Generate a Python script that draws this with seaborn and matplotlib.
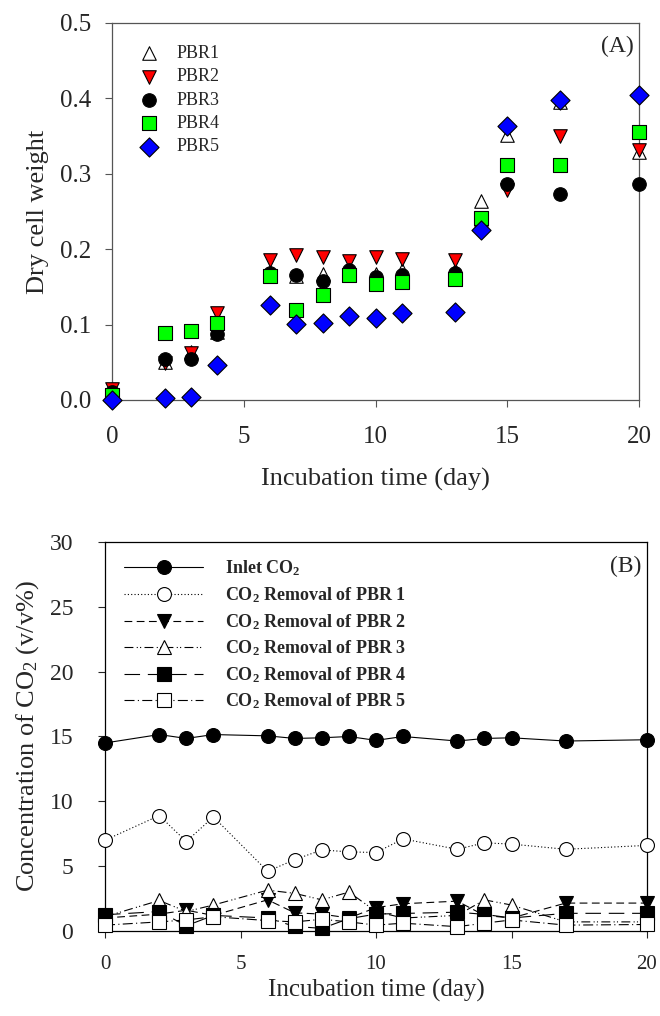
import numpy as np
import pandas as pd
import matplotlib
matplotlib.use('Agg')
import matplotlib.pyplot as plt
import seaborn as sns

# Panel A - dry cell weight
days_a = [0, 2, 3, 4, 6, 7, 8, 9, 10, 11, 13, 14, 15, 17, 20]
pbr1_dcw = [0.010, 0.050, 0.064, 0.090, 0.170, 0.165, 0.167, 0.170, 0.167, 0.172, 0.172, 0.264, 0.351, 0.395, 0.329]
pbr2_dcw = [0.014, 0.049, 0.062, 0.115, 0.186, 0.192, 0.189, 0.184, 0.189, 0.187, 0.186, 0.230, 0.279, 0.350, 0.331]
pbr3_dcw = [0.010, 0.055, 0.055, 0.088, 0.169, 0.166, 0.158, 0.173, 0.163, 0.166, 0.168, 0.233, 0.287, 0.273, 0.286]
pbr4_dcw = [0.007, 0.089, 0.092, 0.102, 0.164, 0.119, 0.139, 0.166, 0.154, 0.157, 0.160, 0.241, 0.312, 0.312, 0.355]
pbr5_dcw = [0.000, 0.002, 0.004, 0.046, 0.126, 0.101, 0.102, 0.112, 0.109, 0.115, 0.117, 0.225, 0.363, 0.398, 0.405]

# Panel B - CO2 concentration
days_b = [0, 2, 3, 4, 6, 7, 8, 9, 10, 11, 13, 14, 15, 17, 20]
inlet_co2 = [14.5, 15.15, 14.85, 15.15, 15.05, 14.85, 14.9, 15.0, 14.7, 15.0, 14.65, 14.85, 14.9, 14.65, 14.75]
rem_pbr1 = [7.0, 8.9, 6.9, 8.8, 4.6, 5.5, 6.25, 6.1, 6.05, 7.1, 6.3, 6.8, 6.7, 6.3, 6.6]
rem_pbr2 = [1.0, 1.3, 1.6, 1.2, 2.4, 1.4, 1.3, 1.0, 1.8, 2.1, 2.3, 1.2, 1.0, 2.15, 2.15]
rem_pbr3 = [1.1, 2.35, 1.5, 2.0, 3.15, 2.9, 2.4, 3.0, 1.5, 1.0, 1.2, 2.4, 2.0, 0.7, 0.7]
rem_pbr4 = [1.25, 1.5, 0.4, 1.2, 1.0, 0.35, 0.2, 0.95, 1.3, 1.35, 1.45, 1.28, 1.0, 1.36, 1.36]
rem_pbr5 = [0.45, 0.7, 0.85, 1.1, 0.8, 0.7, 0.9, 0.7, 0.45, 0.6, 0.33, 0.6, 0.85, 0.45, 0.5]

sns.set_style('ticks')
plt.rcParams['font.family'] = ['Liberation Serif', 'DejaVu Serif']
plt.rcParams['mathtext.fontset'] = 'custom'
plt.rcParams['mathtext.rm'] = 'Liberation Serif'
plt.rcParams['mathtext.it'] = 'Liberation Serif:italic'
plt.rcParams['mathtext.bf'] = 'Liberation Serif:bold'

fig = plt.figure(figsize=(6.6, 10.16), dpi=100)
ax1 = fig.add_axes([0.1697, 0.6063, 0.7985, 0.3711])
ax2 = fig.add_axes([0.1591, 0.0837, 0.8212, 0.3828])

# ---- Panel A
series_a = [
    ('PBR1', pbr1_dcw, '^', 'white'),
    ('PBR2', pbr2_dcw, 'v', '#ff0000'),
    ('PBR3', pbr3_dcw, 'o', 'black'),
    ('PBR4', pbr4_dcw, 's', '#00ff00'),
    ('PBR5', pbr5_dcw, 'D', '#0000ff'),
]
for name, vals, mk, col in series_a:
    sns.scatterplot(x=days_a, y=vals, marker=mk, color=col, edgecolor='black',
                    linewidth=0.8, s=95, label=name, ax=ax1, clip_on=False, zorder=3)

ax1.set_xlim(0, 20)
ax1.set_ylim(0, 0.5)
ax1.set_xticks([0, 5, 10, 15, 20])
ax1.set_yticks([0.0, 0.1, 0.2, 0.3, 0.4, 0.5])
ax1.set_yticklabels(['0.0', '0.1', '0.2', '0.3', '0.4', '0.5'])
ax1.tick_params(axis='both', labelsize=18, length=5, width=0.8, color='#555555')
ax1.tick_params(axis='y', pad=10)
ax1.tick_params(axis='x', pad=14)
for sp in ax1.spines.values():
    sp.set_color('#555555')
    sp.set_linewidth(0.9)
ax1.set_xlabel('Incubation time (day)', fontsize=19, labelpad=14)
ax1.set_ylabel('Dry cell weight', fontsize=19, labelpad=8)
ax1.text(0.99, 0.965, '(A)', transform=ax1.transAxes, ha='right', va='top', fontsize=17)
leg1 = ax1.legend(loc='upper left', bbox_to_anchor=(0.03, 0.97), frameon=False,
                  fontsize=13, handletextpad=0.9, labelspacing=0.35, borderaxespad=0.2,
                  handlelength=1.2)

# ---- Panel B
series_b = [
    ('Inlet CO$_\\mathbf{2}$', inlet_co2, 'o', 'black', '-'),
    ('CO$_\\mathbf{2}$ Removal of PBR 1', rem_pbr1, 'o', 'white', (0, (1, 2))),
    ('CO$_\\mathbf{2}$ Removal of PBR 2', rem_pbr2, 'v', 'black', (0, (7, 4))),
    ('CO$_\\mathbf{2}$ Removal of PBR 3', rem_pbr3, '^', 'white', (0, (8, 3, 1, 2, 1, 3))),
    ('CO$_\\mathbf{2}$ Removal of PBR 4', rem_pbr4, 's', 'black', (0, (14, 7))),
    ('CO$_\\mathbf{2}$ Removal of PBR 5', rem_pbr5, 's', 'white', (0, (9, 3, 1, 3))),
]
for name, vals, mk, fc, ls in series_b:
    sns.lineplot(x=days_b, y=vals, ax=ax2, color='black', linewidth=0.8, linestyle=ls,
                 marker=mk, markersize=10, markerfacecolor=fc, markeredgecolor='black',
                 markeredgewidth=0.8, label=name, clip_on=False, zorder=3)

ax2.set_xlim(0, 20)
ax2.set_ylim(0, 30)
ax2.set_xticks([0, 5, 10, 15, 20])
ax2.set_yticks([0, 5, 10, 15, 20, 25, 30])
ax2.tick_params(axis='x', labelsize=15, length=5, width=0.8, pad=12)
ax2.tick_params(axis='y', labelsize=17, length=5, width=0.8, pad=18)
for sp in ax2.spines.values():
    sp.set_color('black')
    sp.set_linewidth(0.9)
ax2.set_xlabel('Incubation time (day)', fontsize=18, labelpad=4)
ax2.set_ylabel('Concentration of CO$_2$ (v/v%)', fontsize=19, labelpad=6)
ax2.text(0.99, 0.965, '(B)', transform=ax2.transAxes, ha='right', va='top', fontsize=17)
leg2 = ax2.legend(loc='upper left', bbox_to_anchor=(0.015, 0.985), frameon=False,
                  prop={'size': 13, 'weight': 'bold'}, handlelength=4.4,
                  handletextpad=1.2, labelspacing=0.38, borderaxespad=0.2, numpoints=1)

fig.savefig('out.png', dpi=100)
